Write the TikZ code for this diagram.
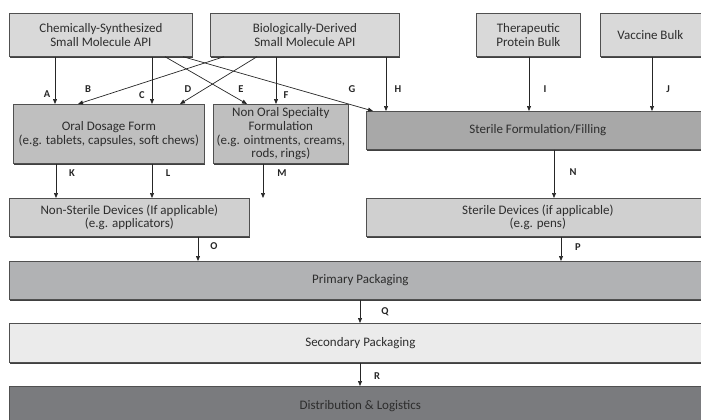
\documentclass[tikz,border=0pt]{standalone}
\usepackage{fontspec}
\setmainfont{Carlito}
\usetikzlibrary{arrows.meta,shadows}
\definecolor{topfill}{RGB}{217,217,217}
\definecolor{midfill}{RGB}{191,191,191}
\definecolor{sterfill}{RGB}{168,168,168}
\definecolor{devfill}{RGB}{208,208,208}
\definecolor{primfill}{RGB}{177,178,180}
\definecolor{secfill}{RGB}{235,235,235}
\definecolor{distfill}{RGB}{122,123,126}
\definecolor{edgecol}{RGB}{80,80,80}
\definecolor{textcol}{RGB}{45,45,45}
\begin{document}
\begin{tikzpicture}[x=1pt,y=-1pt,
  box/.style={draw=edgecol, line width=0.7pt, inner sep=0pt, anchor=north west,
    align=center, text=textcol, font=\fontsize{13}{13.6}\selectfont,
    drop shadow={shadow xshift=1pt, shadow yshift=-1.6pt, fill=black!75, opacity=1}},
  arr/.style={draw=black!85, line width=0.7pt, -{Triangle[length=5pt,width=4pt]}},
  lab/.style={font=\fontsize{10.5}{10.5}\selectfont\bfseries, text=black!85, inner sep=0pt}]
\useasboundingbox (0,0) rectangle (701,420);
\clip (0,0) rectangle (701,420);
% top row
\node[box, fill=topfill, minimum width=183pt, minimum height=43pt] (chem) at (9,13) {Chemically-Synthesized\\Small Molecule API};
\node[box, fill=topfill, minimum width=189pt, minimum height=43pt] (bio) at (210,13) {Biologically-Derived\\Small Molecule API};
\node[box, fill=topfill, minimum width=104pt, minimum height=43pt] (ther) at (476,13) {Therapeutic\\Protein Bulk};
\node[box, fill=topfill, minimum width=110pt, minimum height=43pt] (vacc) at (600,13) {Vaccine Bulk\hbox to 10pt{}};
% second row
\node[box, fill=midfill, minimum width=191pt, minimum height=59pt] (oral) at (13,104) {Oral Dosage Form\\(e.g. tablets, capsules, soft chews)};
\node[box, fill=midfill, minimum width=135pt, minimum height=59pt] (nonoral) at (213,104) {Non Oral Specialty\\Formulation\\(e.g. ointments, creams,\\rods, rings)};
\node[box, fill=sterfill, minimum width=343pt, minimum height=38pt] (sterform) at (366,111) {Sterile Formulation/Filling};
% devices
\node[box, fill=devfill, minimum width=240pt, minimum height=38pt] (nsdev) at (9,198) {Non-Sterile Devices (If applicable)\\(e.g. applicators)};
\node[box, fill=devfill, minimum width=343pt, minimum height=38pt] (sdev) at (366,198) {Sterile Devices (if applicable)\\(e.g. pens)};
% packaging
\node[box, fill=primfill, minimum width=702pt, minimum height=38pt] (prim) at (9,261) {Primary Packaging};
\node[box, fill=secfill, minimum width=702pt, minimum height=39pt] (sec) at (9,323) {Secondary Packaging};
\node[box, fill=distfill, minimum width=702pt, minimum height=40pt] (dist) at (9,386) {Distribution \& Logistics};
% arrows
\draw[arr] (chem.south -| 55,0) -- (oral.north -| 55,0);
\draw[arr] (bio.south -| 224,0) -- (oral.north -| 78,0);
\draw[arr] (chem.south -| 152,0) -- (oral.north -| 152,0);
\draw[arr] (bio.south -| 257,0) -- (oral.north -| 180,0);
\draw[arr] (chem.south -| 165,0) -- (nonoral.north -| 247,0);
\draw[arr] (bio.south -| 276,0) -- (nonoral.north -| 276,0);
\draw[arr] (chem.south -| 183,0) -- (sterform.north -| 373,0);
\draw[arr] (bio.south -| 386,0) -- (sterform.north -| 386,0);
\draw[arr] (ther.south -| 529,0) -- (sterform.north -| 529,0);
\draw[arr] (vacc.south -| 652,0) -- (sterform.north -| 652,0);
\draw[arr] (oral.south -| 56,0) -- (nsdev.north -| 56,0);
\draw[arr] (oral.south -| 152,0) -- (nsdev.north -| 152,0);
\draw[arr] (nonoral.south -| 263,0) -- (nsdev.north -| 263,0);
\draw[arr] (sterform.south -| 554,0) -- (sdev.north -| 554,0);
\draw[arr] (nsdev.south -| 198,0) -- (prim.north -| 198,0);
\draw[arr] (sdev.south -| 561,0) -- (prim.north -| 561,0);
\draw[arr] (prim.south -| 360,0) -- (sec.north -| 360,0);
\draw[arr] (sec.south -| 360,0) -- (dist.north -| 360,0);
% labels
\node[lab] (lA) at (47,94) {A};
\node[lab] (lB) at (88,89) {B};
\node[lab] (lC) at (142,95) {C};
\node[lab] (lD) at (188,89) {D};
\node[lab] (lE) at (241,89) {E};
\node[lab] (lF) at (286,95) {F};
\node[lab] (lG) at (352,89) {G};
\node[lab] (lH) at (398,89) {H};
\node[lab] (lI) at (545,89) {I};
\node[lab] (lJ) at (668,89) {J};
\node[lab] (lK) at (72,173) {K};
\node[lab] (lL) at (168,173) {L};
\node[lab] (lM) at (282,173) {M};
\node[lab] (lN) at (573,172) {N};
\node[lab] (lO) at (214,246) {O};
\node[lab] (lP) at (578,247) {P};
\node[lab] (lQ) at (385,312) {Q};
\node[lab] (lR) at (377,376) {R};
\end{tikzpicture}
\end{document}
